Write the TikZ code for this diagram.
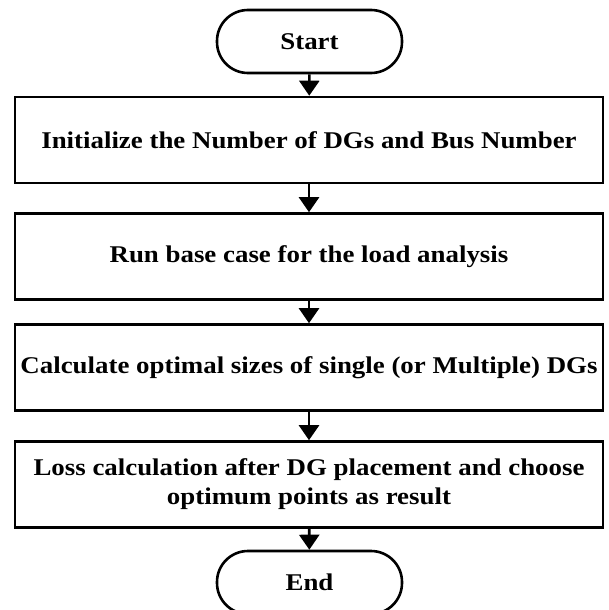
\documentclass[tikz,border=0pt]{standalone}
\usepackage{fontspec}
\setmainfont[FakeStretch=1.12]{Liberation Serif}
\usetikzlibrary{arrows.meta}
\begin{document}
\begin{tikzpicture}[x=1pt,y=-1pt,
  procbox/.style={draw,line width=2.6pt,minimum width=588pt,minimum height=86pt,inner sep=0pt,
    font=\bfseries\fontsize{24}{29}\selectfont,align=center},
  termbox/.style={draw,line width=2.6pt,minimum width=185pt,minimum height=63pt,rounded corners=31pt,inner sep=0pt,
    font=\bfseries\fontsize{24}{29}\selectfont},
  flow/.style={line width=2.6pt,-{Triangle[length=15pt,width=20pt]}}]
\useasboundingbox (0,0) rectangle (609,610);
\node[termbox] (start) at (309.5,41.5) {Start};
\node[procbox] (b1) at (309,140) {Initialize the Number of DGs and Bus Number};
\node[procbox] (b2) at (309,256.5) {Run base case for the load analysis};
\node[procbox] (b3) at (309,367.5) {Calculate optimal sizes of single (or Multiple) DGs};
\node[procbox] (b4) at (309,484.5) {Loss calculation after DG placement and choose\\optimum points as result};
\node[termbox] (end) at (309.5,582.5) {End};
\draw[flow] (start) -- (b1);
\draw[flow] (b1) -- (b2);
\draw[flow] (b2) -- (b3);
\draw[flow] (b3) -- (b4);
\draw[flow] (b4) -- (end);
\end{tikzpicture}
\end{document}
